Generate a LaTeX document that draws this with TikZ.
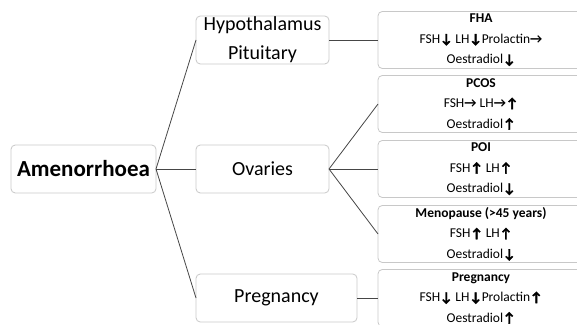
\documentclass[tikz,border=0pt]{standalone}
\usepackage{fontspec}
\setmainfont{Carlito}
\newfontfamily\heavyarrow{Carlito}[BoldFeatures={FakeBold=2.5}]
\usepackage{tikz}
\usetikzlibrary{arrows}
\definecolor{boxgray}{RGB}{200,200,200}
\definecolor{edgegray}{RGB}{70,70,70}
\newcommand{\arrup}{{\heavyarrow\bfseries ↑}}
\newcommand{\arrdn}{{\heavyarrow\bfseries ↓}}
\newcommand{\arrrt}{{\bfseries →}}
\tikzset{
    treenode/.style = {
        align=center,
        rectangle,
        rounded corners=1.5mm,
        draw=boxgray,
        line width=0.8pt,
        inner sep=0pt,
        outer sep=0pt,
        anchor=west
    },
    rootnode/.style = {
        treenode,
        font=\fontsize{23}{28}\selectfont\bfseries,
        minimum width=145pt,
        minimum height=48pt
    },
    midnode/.style = {
        treenode,
        font=\fontsize{20}{29}\selectfont,
        minimum width=133pt,
        minimum height=48pt
    },
    leafnode/.style = {
        treenode,
        font=\fontsize{13.5}{20.5}\selectfont,
        minimum width=206pt,
        minimum height=57pt
    }
}
\begin{document}
\begin{tikzpicture}[
                x=1pt, y=1pt,
                grow'=right,
                parent anchor=east,
                child anchor=west,
                edge from parent/.style={draw=edgegray, line width=0.8pt},
                level 1/.style={level distance=112.5pt, sibling distance=129pt},
                level 2/.style={level distance=115.5pt, sibling distance=65pt}
            ]
            \clip (0,0) rectangle (577,324);
            \node [rootnode] (amen) at (11,155) {Amenorrhoea}
                child { node [midnode] (hypo) {Hypothalamus\\Pituitary}
                    child { node [leafnode] (fha) {\textbf{FHA}\\FSH\arrdn{} LH\arrdn{}Prolactin\arrrt\\Oestradiol\arrdn} }
                }
                child { node [midnode] (ovar) {Ovaries}
                    child { node [leafnode] (pcos) {\textbf{PCOS}\\FSH\arrrt{} LH\arrrt\arrup\\Oestradiol\arrup} }
                    child { node [leafnode] (poi) {\textbf{POI}\\FSH\arrup{} LH\arrup\\Oestradiol\arrdn} }
                    child { node [leafnode] (meno) {\textbf{Menopause (>45 years)}\\FSH\arrup{} LH\arrup\\Oestradiol\arrdn} }
                }
                child { node [midnode, minimum width=161pt] (preg) {Pregnancy}
                    child [level distance=101.5pt] { node [leafnode] (pregleaf) {\textbf{Pregnancy}\\FSH\arrdn{} LH\arrdn{}Prolactin\arrup\\Oestradiol\arrup} }
                };
        \end{tikzpicture}
\end{document}
